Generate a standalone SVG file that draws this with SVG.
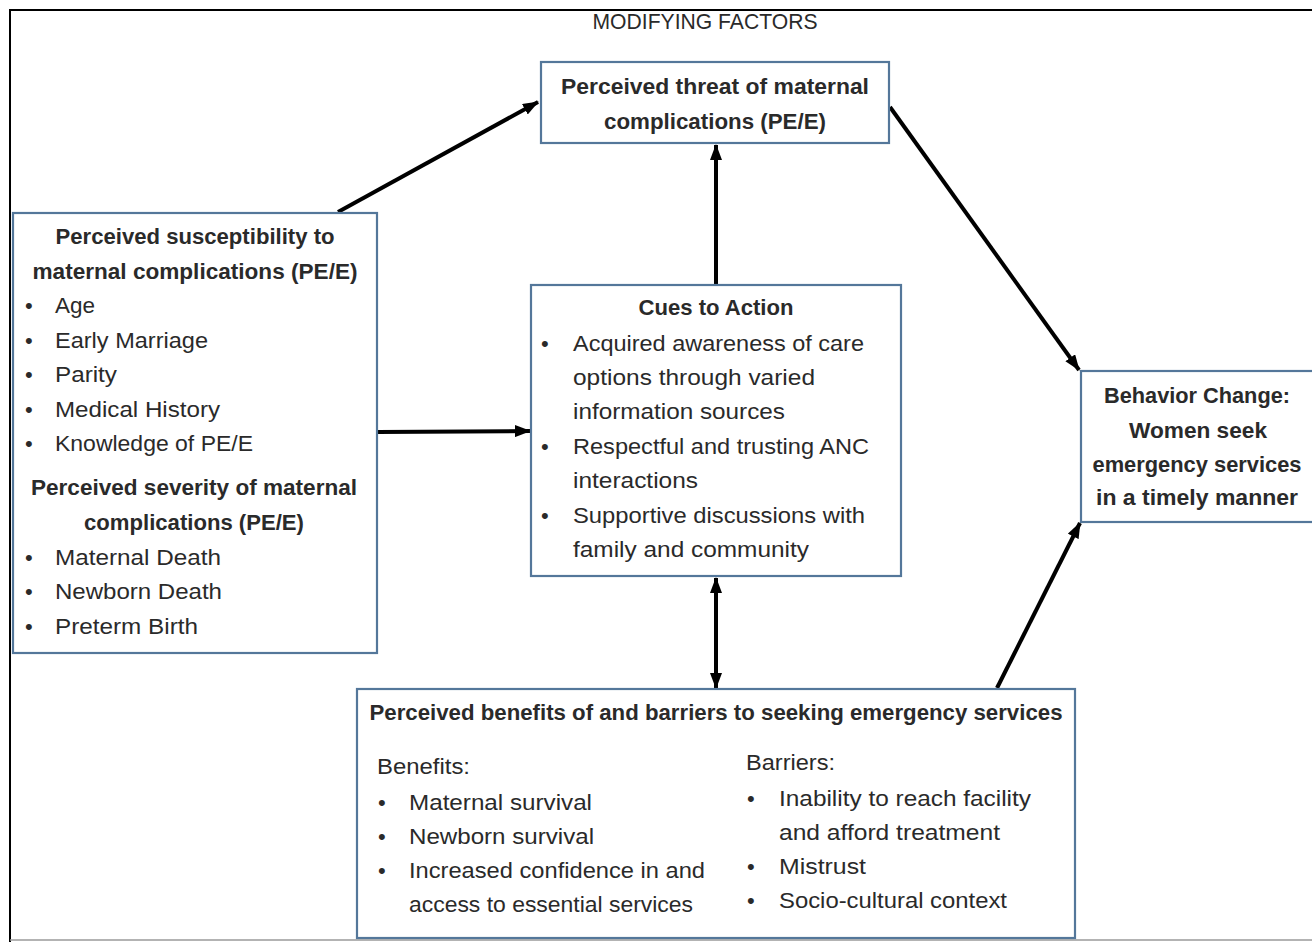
<svg xmlns="http://www.w3.org/2000/svg" width="1312" height="942" viewBox="0 0 1312 942">
<defs>
<style>
.box{fill:#ffffff;stroke:#54779a;stroke-width:2.2}
.t{font-family:"Liberation Sans",Arial,sans-serif;font-size:22px;fill:#2a2a2a}
.b{font-weight:bold}
.c{text-anchor:middle}
.con{stroke:#000;stroke-width:4;fill:none}
</style>
<marker id="ah" viewBox="0 0 16 12" refX="15" refY="6" markerWidth="16" markerHeight="12" markerUnits="userSpaceOnUse" orient="auto-start-reverse">
<path d="M0,0 L16,6 L0,12 Z" fill="#000"/>
</marker>
</defs>
<rect width="1312" height="942" fill="#ffffff"/>
<path d="M1312,10 H10 V942" fill="none" stroke="#000" stroke-width="2"/>
<line x1="10" y1="940" x2="1312" y2="940" stroke="#9a9a9a" stroke-width="1.5"/>
<text class="t" x="705" y="29" text-anchor="middle" font-size="18" fill="#3a3a3a" textLength="225" lengthAdjust="spacingAndGlyphs">MODIFYING FACTORS</text>

<g id="connectors">
<line class="con" x1="338" y1="212" x2="538" y2="102" marker-end="url(#ah)"/>
<line class="con" x1="378" y1="432" x2="530" y2="431" marker-end="url(#ah)"/>
<line class="con" x1="716" y1="284" x2="716" y2="145" marker-end="url(#ah)"/>
<line class="con" x1="890" y1="107" x2="1079" y2="370" marker-end="url(#ah)"/>
<line class="con" x1="716" y1="578" x2="716" y2="688" marker-start="url(#ah)" marker-end="url(#ah)"/>
<line class="con" x1="997" y1="688" x2="1080" y2="523" marker-end="url(#ah)"/>
</g>

<g id="threat">
<rect class="box" x="541" y="62" width="348" height="81"/>
<text class="t b c" x="715" y="94" textLength="308" lengthAdjust="spacingAndGlyphs">Perceived threat of maternal</text>
<text class="t b c" x="715" y="129" textLength="222" lengthAdjust="spacingAndGlyphs">complications (PE/E)</text>
</g>

<g id="susceptibility">
<rect class="box" x="13" y="213" width="364" height="440"/>
<text class="t b c" x="195" y="244" textLength="279" lengthAdjust="spacingAndGlyphs">Perceived susceptibility to</text>
<text class="t b c" x="195" y="279" textLength="325" lengthAdjust="spacingAndGlyphs">maternal complications (PE/E)</text>
<g class="t">
<text x="25" y="313">•</text><text x="55" y="313" textLength="40" lengthAdjust="spacingAndGlyphs">Age</text>
<text x="25" y="348">•</text><text x="55" y="348" textLength="153" lengthAdjust="spacingAndGlyphs">Early Marriage</text>
<text x="25" y="382">•</text><text x="55" y="382" textLength="62" lengthAdjust="spacingAndGlyphs">Parity</text>
<text x="25" y="417">•</text><text x="55" y="417" textLength="165" lengthAdjust="spacingAndGlyphs">Medical History</text>
<text x="25" y="451">•</text><text x="55" y="451" textLength="198" lengthAdjust="spacingAndGlyphs">Knowledge of PE/E</text>
</g>
<text class="t b c" x="194" y="495" textLength="326" lengthAdjust="spacingAndGlyphs">Perceived severity of maternal</text>
<text class="t b c" x="194" y="530" textLength="220" lengthAdjust="spacingAndGlyphs">complications (PE/E)</text>
<g class="t">
<text x="25" y="565">•</text><text x="55" y="565" textLength="166" lengthAdjust="spacingAndGlyphs">Maternal Death</text>
<text x="25" y="599">•</text><text x="55" y="599" textLength="167" lengthAdjust="spacingAndGlyphs">Newborn Death</text>
<text x="25" y="634">•</text><text x="55" y="634" textLength="143" lengthAdjust="spacingAndGlyphs">Preterm Birth</text>
</g>
</g>

<g id="cues">
<rect class="box" x="531" y="285" width="370" height="291"/>
<text class="t b c" x="716" y="315" textLength="155" lengthAdjust="spacingAndGlyphs">Cues to Action</text>
<g class="t">
<text x="541" y="351">•</text><text x="573" y="351" textLength="291" lengthAdjust="spacingAndGlyphs">Acquired awareness of care</text>
<text x="573" y="385" textLength="242" lengthAdjust="spacingAndGlyphs">options through varied</text>
<text x="573" y="419" textLength="212" lengthAdjust="spacingAndGlyphs">information sources</text>
<text x="541" y="454">•</text><text x="573" y="454" textLength="296" lengthAdjust="spacingAndGlyphs">Respectful and trusting ANC</text>
<text x="573" y="488" textLength="125" lengthAdjust="spacingAndGlyphs">interactions</text>
<text x="541" y="523">•</text><text x="573" y="523" textLength="292" lengthAdjust="spacingAndGlyphs">Supportive discussions with</text>
<text x="573" y="557" textLength="236" lengthAdjust="spacingAndGlyphs">family and community</text>
</g>
</g>

<g id="behavior">
<rect class="box" x="1081" y="371" width="240" height="151"/>
<text class="t b c" x="1197" y="403" textLength="186" lengthAdjust="spacingAndGlyphs">Behavior Change:</text>
<text class="t b c" x="1198" y="438" textLength="138" lengthAdjust="spacingAndGlyphs">Women seek</text>
<text class="t b c" x="1197" y="472" textLength="209" lengthAdjust="spacingAndGlyphs">emergency services</text>
<text class="t b c" x="1197" y="505" textLength="202" lengthAdjust="spacingAndGlyphs">in a timely manner</text>
</g>

<g id="benefits">
<rect class="box" x="357" y="689" width="718" height="249"/>
<text class="t b c" x="716" y="720" textLength="693" lengthAdjust="spacingAndGlyphs">Perceived benefits of and barriers to seeking emergency services</text>
<g class="t">
<text x="377" y="774" textLength="93" lengthAdjust="spacingAndGlyphs">Benefits:</text>
<text x="378" y="810">•</text><text x="409" y="810" textLength="183" lengthAdjust="spacingAndGlyphs">Maternal survival</text>
<text x="378" y="844">•</text><text x="409" y="844" textLength="185" lengthAdjust="spacingAndGlyphs">Newborn survival</text>
<text x="378" y="878">•</text><text x="409" y="878" textLength="296" lengthAdjust="spacingAndGlyphs">Increased confidence in and</text>
<text x="409" y="912" textLength="284" lengthAdjust="spacingAndGlyphs">access to essential services</text>
<text x="746" y="770" textLength="89" lengthAdjust="spacingAndGlyphs">Barriers:</text>
<text x="747" y="806">•</text><text x="779" y="806" textLength="252" lengthAdjust="spacingAndGlyphs">Inability to reach facility</text>
<text x="779" y="840" textLength="221" lengthAdjust="spacingAndGlyphs">and afford treatment</text>
<text x="747" y="874">•</text><text x="779" y="874" textLength="87" lengthAdjust="spacingAndGlyphs">Mistrust</text>
<text x="747" y="908">•</text><text x="779" y="908" textLength="228" lengthAdjust="spacingAndGlyphs">Socio-cultural context</text>
</g>
</g>
</svg>
